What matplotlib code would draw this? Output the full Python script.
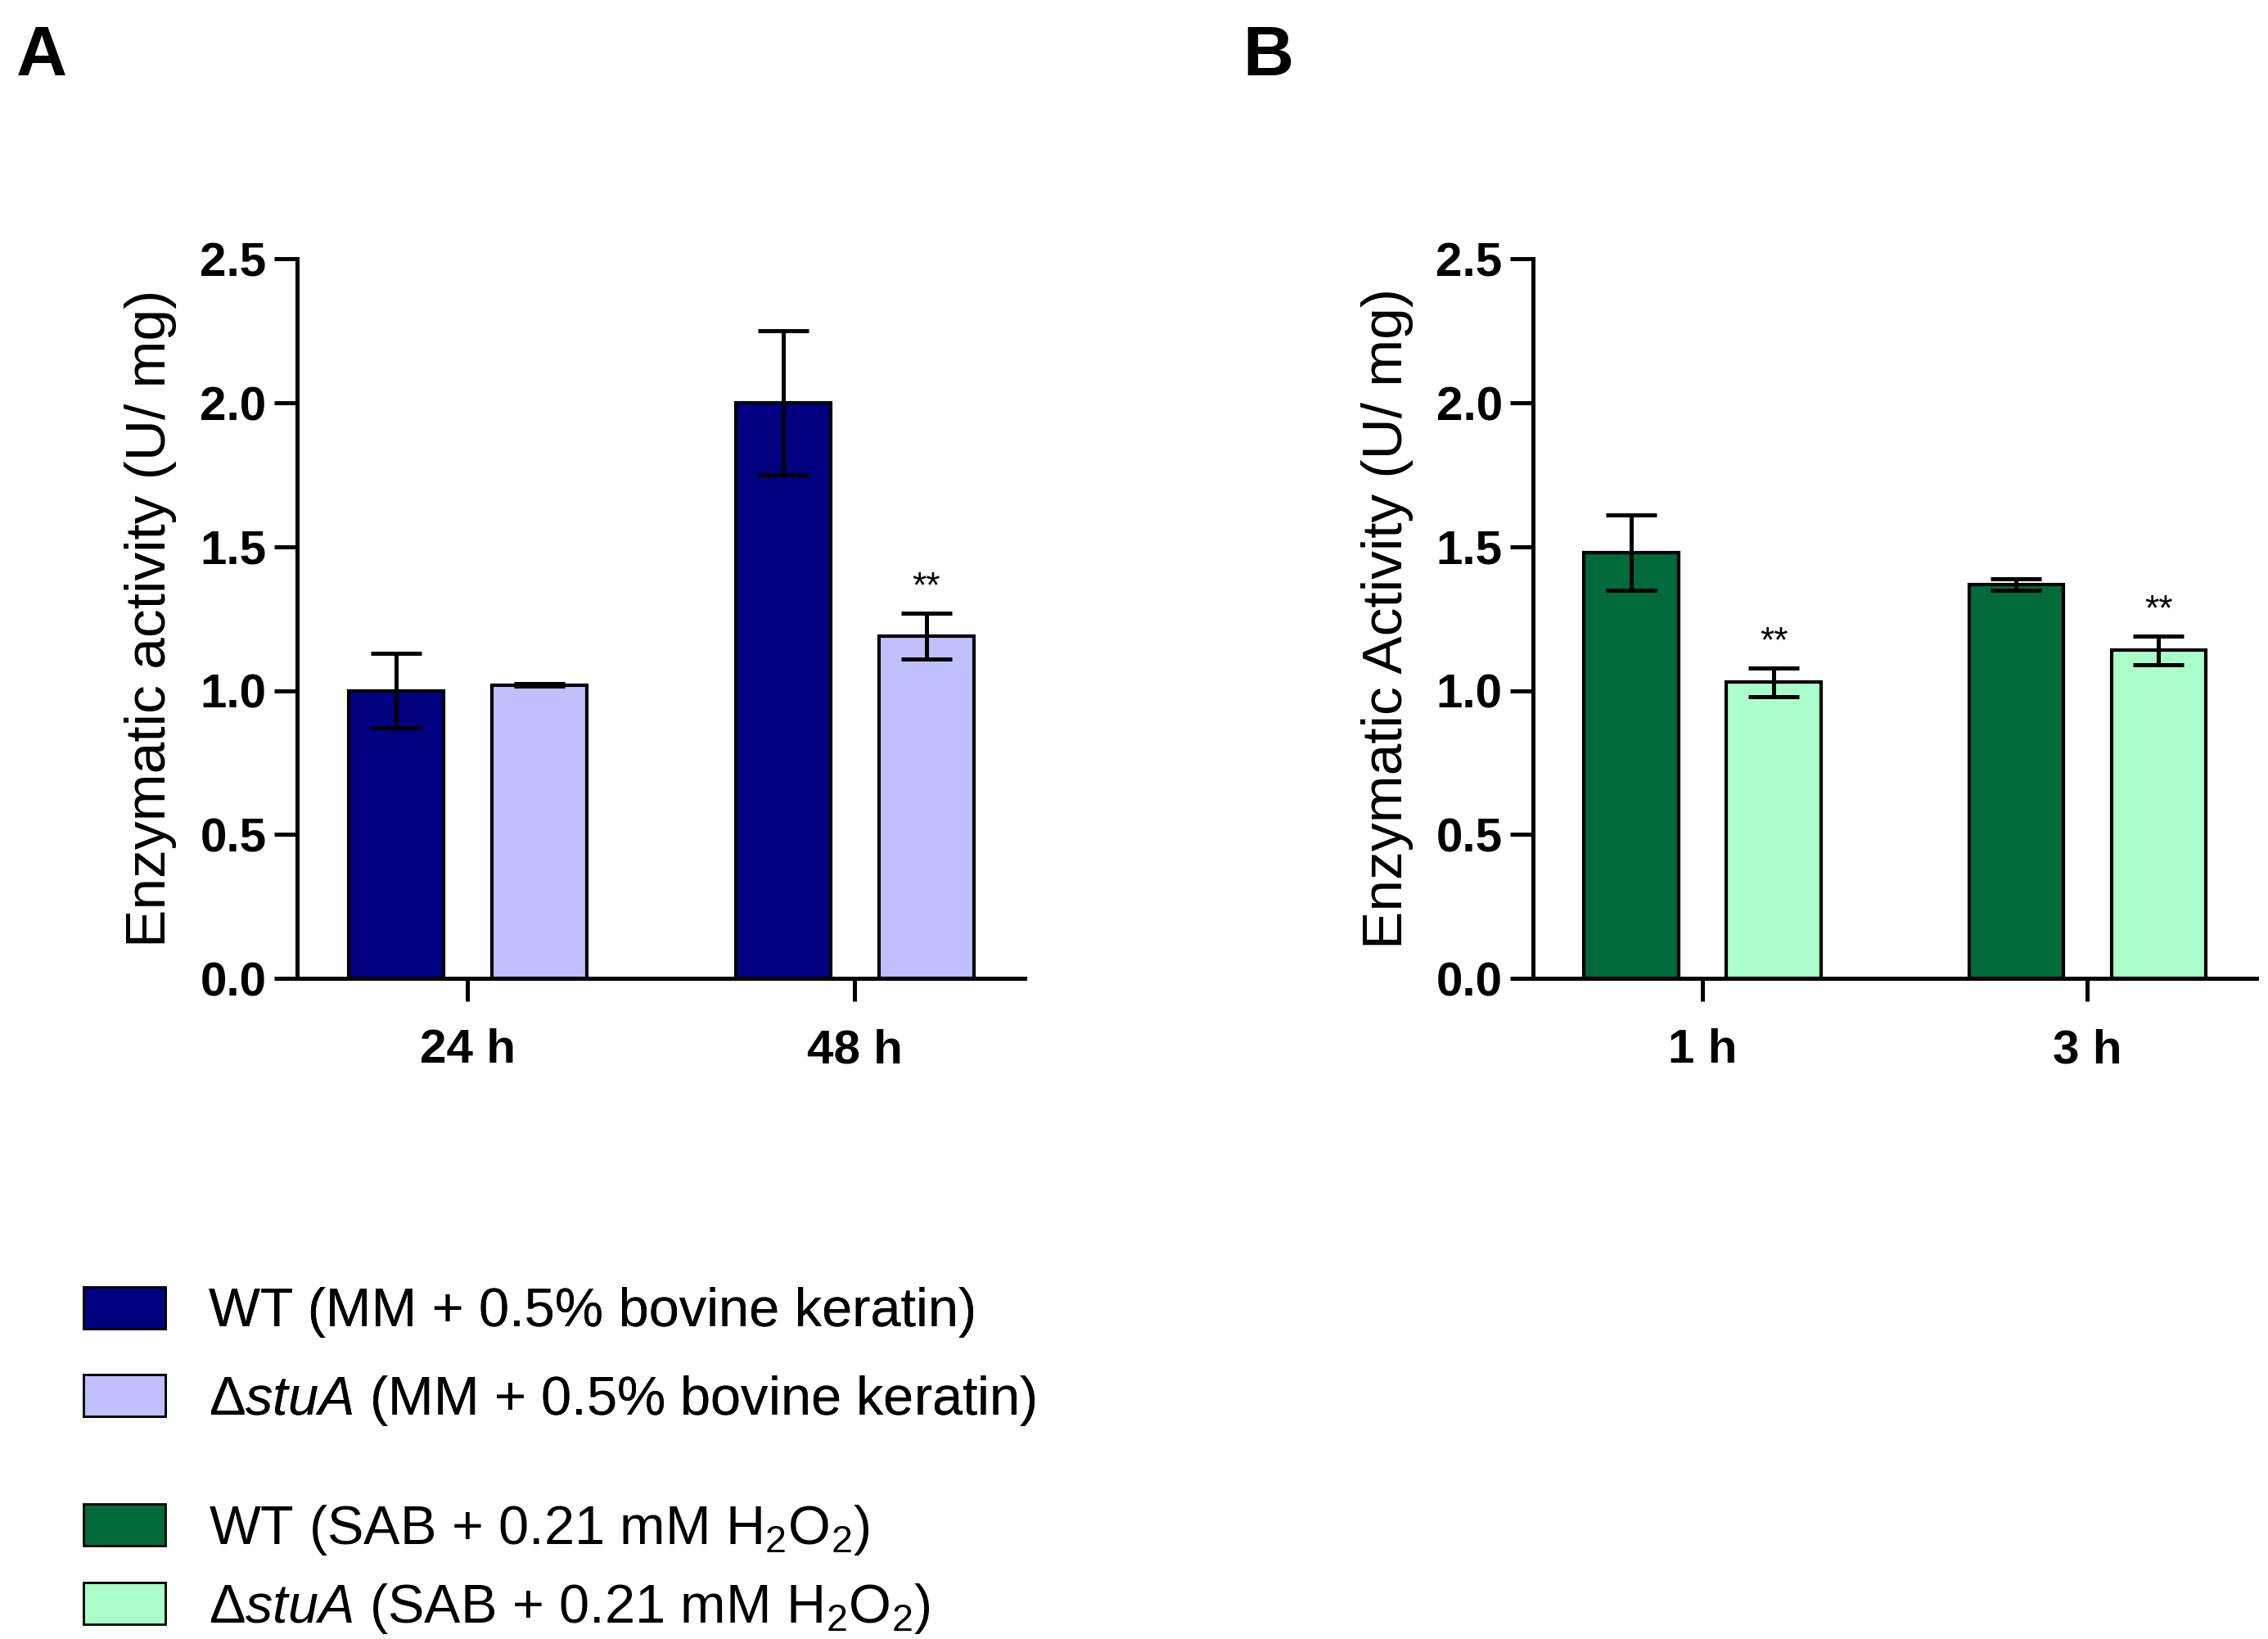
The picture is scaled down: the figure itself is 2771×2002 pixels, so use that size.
import matplotlib.pyplot as plt
from matplotlib.patches import Patch

plt.rcParams["font.family"] = "Liberation Sans"
plt.rcParams["mathtext.fontset"] = "custom"
plt.rcParams["mathtext.rm"] = "Liberation Sans"
plt.rcParams["mathtext.it"] = "Liberation Sans:italic"

# Data
groups_a = ["24 h", "48 h"]
wt_a = [1.00, 2.00]
wt_a_err = [0.13, 0.25]
stua_a = [1.02, 1.19]
stua_a_err = [0.005, 0.08]
stars_a = ["", "**"]

groups_b = ["1 h", "3 h"]
wt_b = [1.48, 1.37]
wt_b_err = [0.13, 0.02]
stua_b = [1.03, 1.14]
stua_b_err = [0.05, 0.05]
stars_b = ["**", "**"]

fig = plt.figure(figsize=(13.855, 10.01), dpi=200)


def panel(rect, groups, wt, wt_err, mut, mut_err, stars, c1, c2, ylabel):
    ax = fig.add_axes(rect)
    x = list(range(len(groups)))
    w, off = 0.245, 0.185
    ax.bar([i - off for i in x], wt, w, color=c1, edgecolor="black", linewidth=1.5, zorder=2)
    ax.bar([i + off for i in x], mut, w, color=c2, edgecolor="black", linewidth=1.5, zorder=2)
    ax.errorbar([i - off for i in x], wt, yerr=wt_err, fmt="none", ecolor="black",
                elinewidth=1.8, capsize=11, capthick=1.8, zorder=3)
    ax.errorbar([i + off for i in x], mut, yerr=mut_err, fmt="none", ecolor="black",
                elinewidth=1.8, capsize=11, capthick=1.8, zorder=3)
    for i, s in enumerate(stars):
        if s:
            ax.text(i + off, mut[i] + mut_err[i] + 0.03, s, ha="center", va="bottom", fontsize=16)
    ax.set_xlim(-0.44, 1.44)
    ax.set_ylim(0, 2.5)
    ax.set_yticks([0, 0.5, 1.0, 1.5, 2.0, 2.5])
    ax.set_yticklabels(["0.0", "0.5", "1.0", "1.5", "2.0", "2.5"])
    ax.set_xticks(x)
    ax.set_xticklabels(groups)
    for sp in ["top", "right"]:
        ax.spines[sp].set_visible(False)
    for sp in ["left", "bottom"]:
        ax.spines[sp].set_linewidth(1.8)
    ax.tick_params(axis="both", width=1.8, length=10, labelsize=21)
    ax.tick_params(axis="x", pad=12)
    for lbl in ax.get_xticklabels() + ax.get_yticklabels():
        lbl.set_fontweight("bold")
    ax.set_ylabel(ylabel, fontsize=25, labelpad=10)
    return ax


panel([0.131, 0.403, 0.321, 0.439], groups_a, wt_a, wt_a_err, stua_a, stua_a_err, stars_a,
      "#000080", "#C0C0FF", "Enzymatic activity (U/ mg)")
panel([0.676, 0.403, 0.319, 0.439], groups_b, wt_b, wt_b_err, stua_b, stua_b_err, stars_b,
      "#006A3A", "#AAFFC8", "Enzymatic Activity (U/ mg)")

fig.text(0.007, 0.985, "A", fontsize=31, fontweight="bold", va="top")
fig.text(0.548, 0.985, "B", fontsize=31, fontweight="bold", va="top")

h1 = [Patch(facecolor="#000080", edgecolor="black"), Patch(facecolor="#C0C0FF", edgecolor="black")]
l1 = ["WT (MM + 0.5% bovine keratin)", r"$\Delta\mathit{stuA}$ (MM + 0.5% bovine keratin)"]
leg1 = fig.legend(h1, l1, loc="upper left", bbox_to_anchor=(0.015, 0.245), frameon=False,
                  fontsize=24, handlelength=1.5, handleheight=0.8, labelspacing=0.65)
h2 = [Patch(facecolor="#006A3A", edgecolor="black"), Patch(facecolor="#AAFFC8", edgecolor="black")]
l2 = [r"WT (SAB + 0.21 mM H$_2$O$_2$)", r"$\Delta\mathit{stuA}$ (SAB + 0.21 mM H$_2$O$_2$)"]
fig.legend(h2, l2, loc="upper left", bbox_to_anchor=(0.015, 0.113), frameon=False,
           fontsize=24, handlelength=1.5, handleheight=0.8, labelspacing=0.45)
fig.add_artist(leg1)

fig.savefig("out.png", dpi=200, facecolor="white")
